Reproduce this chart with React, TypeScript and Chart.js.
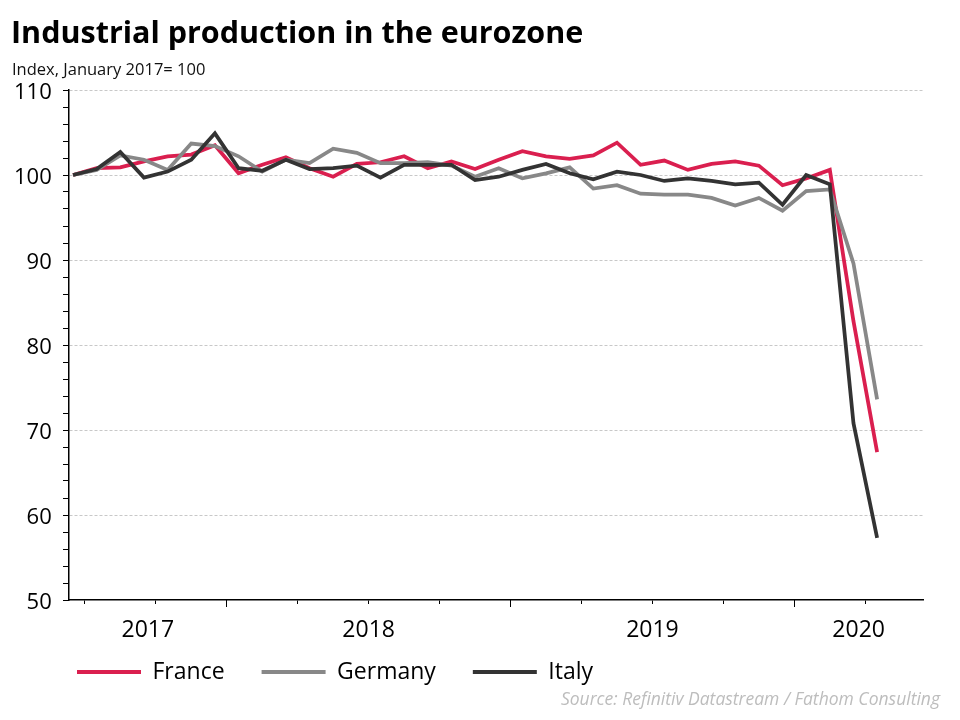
import React, { useEffect, useRef } from 'react';
import { Chart, registerables } from 'chart.js';

Chart.register(...registerables);

// ---- Data (monthly, June 2017 – April 2020) ----
const months = [
  '2017-06', '2017-07', '2017-08', '2017-09', '2017-10', '2017-11', '2017-12',
  '2018-01', '2018-02', '2018-03', '2018-04', '2018-05', '2018-06', '2018-07', '2018-08', '2018-09', '2018-10', '2018-11', '2018-12',
  '2019-01', '2019-02', '2019-03', '2019-04', '2019-05', '2019-06', '2019-07', '2019-08', '2019-09', '2019-10', '2019-11', '2019-12',
  '2020-01', '2020-02', '2020-03', '2020-04',
];

const france = [
  100.0, 100.8, 100.9, 101.6, 102.2, 102.4, 103.5,
  100.2, 101.2, 102.1, 100.8, 99.8, 101.3, 101.5, 102.2, 100.8, 101.6, 100.7, 101.8,
  102.8, 102.2, 101.9, 102.3, 103.8, 101.2, 101.7, 100.6, 101.3, 101.6, 101.1, 98.8,
  99.6, 100.6, 82.8, 67.4,
];

const germany = [
  100.0, 100.6, 102.3, 101.8, 100.6, 103.7, 103.4,
  102.2, 100.4, 101.8, 101.4, 103.1, 102.6, 101.4, 101.4, 101.5, 101.1, 99.8, 100.8,
  99.6, 100.2, 100.9, 98.4, 98.8, 97.8, 97.7, 97.7, 97.3, 96.4, 97.3, 95.8,
  98.1, 98.3, 89.6, 73.6,
];

const italy = [
  100.0, 100.7, 102.7, 99.7, 100.4, 101.8, 104.9,
  100.8, 100.5, 101.8, 100.7, 100.8, 101.1, 99.7, 101.2, 101.2, 101.2, 99.4, 99.8,
  100.6, 101.3, 100.2, 99.5, 100.4, 100.0, 99.3, 99.6, 99.3, 98.9, 99.1, 96.5,
  100.0, 98.9, 70.8, 57.3,
];

const seriesNames = ['France', 'Germany', 'Italy'];
const yearLabels = ['2017', '2018', '2019', '2020'];

// ---- Axis layout helpers (derived from the month list) ----
const X_MIN = -0.17;
const X_MAX = 35.94;
const monthNum = (m: string) => Number(m.slice(5));
const quarterTicks = months
  .map((m, i) => ({ mo: monthNum(m), i }))
  .filter((o) => o.i > 0 && [1, 4, 7, 10].includes(o.mo))
  .map((o) => o.i - 0.5);
const yearTicks = months
  .map((m, i) => ({ mo: monthNum(m), i }))
  .filter((o) => o.i > 0 && o.mo === 1)
  .map((o) => o.i - 0.5);
const yearEdges = [X_MIN, ...yearTicks, X_MAX];
const yearLabelPos = yearLabels.map((_, i) => (yearEdges[i] + yearEdges[i + 1]) / 2);

const FONT = "'Open Sans', 'DejaVu Sans', sans-serif";

export default function App() {
  const canvasRef = useRef<HTMLCanvasElement | null>(null);

  useEffect(() => {
    if (!canvasRef.current) return;
    const toPts = (arr: number[]) => arr.map((v, i) => ({ x: i, y: v }));
    const colors = ['#DA1F4F', '#888888', '#333333'];
    const chart = new Chart(canvasRef.current, {
      type: 'line',
      data: {
        datasets: [
          { label: seriesNames[0], data: toPts(france), borderColor: colors[0], backgroundColor: colors[0], order: 2 },
          { label: seriesNames[1], data: toPts(germany), borderColor: colors[1], backgroundColor: colors[1], order: 1 },
          { label: seriesNames[2], data: toPts(italy), borderColor: colors[2], backgroundColor: colors[2], order: 0 },
        ],
      },
      options: {
        responsive: false,
        animation: false,
        layout: { padding: { left: 40, right: 37, top: 90, bottom: 26.5 } },
        elements: {
          line: { borderWidth: 3.75, tension: 0, fill: false, borderJoinStyle: 'miter' },
          point: { radius: 0, hoverRadius: 0 },
        },
        plugins: {
          tooltip: { enabled: false },
          title: { display: false },
          legend: {
            display: true,
            position: 'bottom',
            align: 'start',
            labels: {
              font: { family: FONT, size: 23 },
              color: '#000',
              boxWidth: 64,
              boxHeight: 4,
              padding: 37,
              generateLabels: (ch: any) =>
                ch.data.datasets.map((ds: any, i: number) => ({
                  text: ds.label,
                  fillStyle: ds.borderColor,
                  strokeStyle: ds.borderColor,
                  lineWidth: 0,
                  hidden: false,
                  datasetIndex: i,
                  fontColor: '#000',
                })),
            },
          },
        },
        scales: {
          x: {
            type: 'linear',
            position: 'bottom',
            weight: 0,
            min: X_MIN,
            max: X_MAX,
            afterBuildTicks: (s: any) => {
              s.ticks = quarterTicks.map((v) => ({ value: v }));
            },
            afterFit: (s: any) => {
              s.height = 0;
            },
            ticks: { display: false },
            grid: { drawOnChartArea: false, drawTicks: true, tickLength: 4, tickColor: '#000', tickWidth: 1 },
            border: { display: true, color: '#000', width: 1.5 },
          },
          xYear: {
            type: 'linear',
            position: 'bottom',
            weight: 1,
            min: X_MIN,
            max: X_MAX,
            afterBuildTicks: (s: any) => {
              s.ticks = yearTicks.map((v) => ({ value: v }));
            },
            afterFit: (s: any) => {
              s.height = 0;
            },
            ticks: { display: false },
            grid: { drawOnChartArea: false, drawTicks: true, tickLength: 7, tickColor: '#000', tickWidth: 1 },
            border: { display: false },
          },
          xLabel: {
            type: 'linear',
            position: 'bottom',
            weight: 2,
            min: X_MIN,
            max: X_MAX,
            afterBuildTicks: (s: any) => {
              s.ticks = yearLabelPos.map((v) => ({ value: v }));
            },
            afterFit: (s: any) => {
              s.height = 23.5;
            },
            ticks: {
              autoSkip: false,
              maxRotation: 0,
              mirror: true,
              padding: -44,
              color: '#000',
              font: { family: FONT, size: 23 },
              callback: (_v: any, i: number) => yearLabels[i],
            },
            grid: { display: false, drawTicks: false },
            border: { display: false },
          },
          y: {
            type: 'linear',
            position: 'left',
            min: 50,
            max: 110,
            afterBuildTicks: (s: any) => {
              const t: { value: number }[] = [];
              for (let v = 50; v <= 110; v += 2) t.push({ value: v });
              s.ticks = t;
            },
            afterFit: (s: any) => {
              s.width = 29;
            },
            ticks: {
              autoSkip: false,
              mirror: true,
              crossAlign: 'far',
              padding: -55,
              labelOffset: 3,
              color: '#000',
              font: { family: FONT, size: 22 },
              callback: (v: any) => (Number(v) % 10 === 0 ? String(v) : ''),
            },
            grid: {
              drawOnChartArea: true,
              color: (ctx: any) =>
                ctx.tick && ctx.tick.value % 10 === 0 && ctx.tick.value > 50 ? '#c8c8c8' : 'rgba(0,0,0,0)',
              lineWidth: 1,
              drawTicks: true,
              tickLength: 6,
              tickColor: '#000',
              tickWidth: 1,
            },
            border: { display: true, color: '#000', width: 1.5, dash: [3, 2] },
          },
        },
      } as any,
    });
    return () => chart.destroy();
  }, []);

  return (
    <div style={{ position: 'absolute', left: 0, top: 0, width: 960, height: 720, background: '#fff' }}>
      <canvas ref={canvasRef} width={960} height={720} style={{ position: 'absolute', left: 0, top: 0 }} />
      <div
        style={{
          position: 'absolute', left: 11, top: 16, fontFamily: FONT, fontWeight: 700,
          fontSize: '30.5px', lineHeight: '30px', color: '#000', whiteSpace: 'nowrap',
        }}
      >
        Industrial production in the eurozone
      </div>
      <div
        style={{
          position: 'absolute', left: 12, top: 61, fontFamily: FONT,
          fontSize: '16.5px', lineHeight: '16.5px', color: '#111', whiteSpace: 'nowrap',
        }}
      >
        Index, January 2017= 100
      </div>
      <div
        style={{
          position: 'absolute', right: 20, top: 690, fontFamily: FONT, fontStyle: 'italic',
          fontSize: '17.5px', lineHeight: '17px', color: '#bdbdbd', whiteSpace: 'nowrap',
        }}
      >
        Source: Refinitiv Datastream / Fathom Consulting
      </div>
    </div>
  );
}
